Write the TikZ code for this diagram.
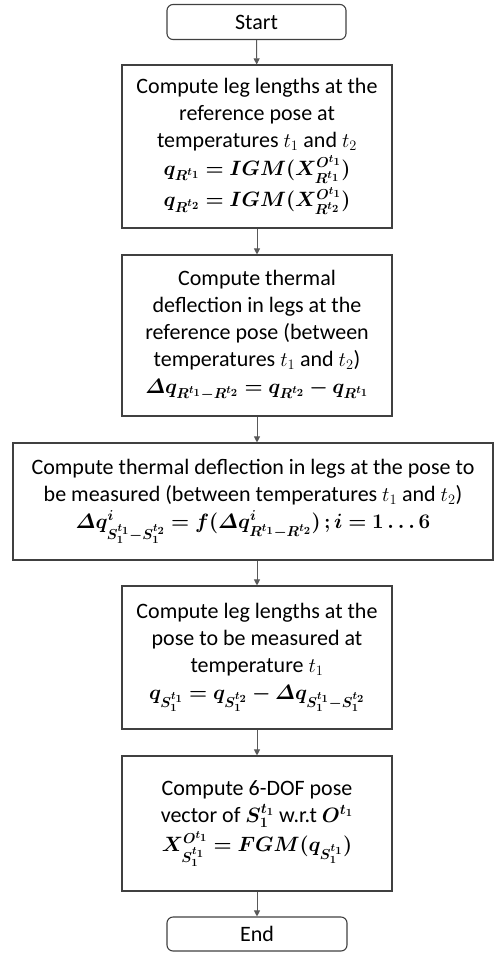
\documentclass[tikz,border=0pt]{standalone}
\usepackage{amsmath}
\usepackage{bm}
\usepackage{fontspec}
\setmainfont{Carlito}
\usetikzlibrary{arrows.meta}

\begin{document}
\begin{tikzpicture}[x=1pt,y=1pt,
  stepbox/.style={draw=black!75,line width=1.1pt,align=center,inner sep=2pt,
    font=\fontsize{22}{27}\selectfont},
  termbox/.style={stepbox,rounded corners=6pt,minimum width=179pt,minimum height=35pt},
  flow/.style={draw=black!65,line width=0.9pt,-{Triangle[length=6pt,width=6pt]}}]
\path (0,0) rectangle (498,-954);
\node[termbox] (start) at (256.5,-22) {Start};
\node[stepbox,minimum width=270pt,minimum height=163pt] (leglen) at (257,-146.5)
  {Compute leg lengths at the\\reference pose at\\temperatures $t_1$ and $t_2$\\[1pt]
   $\bm{q_{R^{t_1}} = IGM(X^{O^{t_1}}_{R^{t_1}})}$\\[3pt]
   $\bm{q_{R^{t_2}} = IGM(X^{O^{t_1}}_{R^{t_2}})}$};
\node[stepbox,minimum width=270pt,minimum height=161pt] (refdefl) at (257,-335.5)
  {Compute thermal\\deflection in legs at the\\reference pose (between\\temperatures $t_1$ and $t_2$)\\
   $\bm{\varDelta q_{R^{t_1}-R^{t_2}} = q_{R^{t_2}} - q_{R^{t_1}}}$};
\node[stepbox,minimum width=480pt,minimum height=117pt] (posedefl) at (253,-501.5)
  {Compute thermal deflection in legs at the pose to\\be measured (between temperatures $t_1$ and $t_2$)\\
   $\bm{\varDelta q^{i}_{S_1^{t_1}-S_1^{t_2}} = f(\varDelta q^{i}_{R^{t_1}-R^{t_2}})\,; i = 1 \ldots 6}$};
\node[stepbox,minimum width=270pt,minimum height=143pt] (poselen) at (257,-657.5)
  {Compute leg lengths at the\\pose to be measured at\\temperature $t_1$\\
   $\bm{q_{S_1^{t_1}} = q_{S_1^{t_2}} - \varDelta q_{S_1^{t_1}-S_1^{t_2}}}$};
\node[stepbox,minimum width=270pt,minimum height=135pt] (posevec) at (257,-823.5)
  {Compute 6-DOF pose\\vector of $\bm{S_1^{t_1}}$ w.r.t $\bm{O^{t_1}}$\\[2pt]
   $\bm{X^{O^{t_1}}_{S_1^{t_1}} = FGM(q_{S_1^{t_1}})}$};
\node[termbox,minimum width=180pt,minimum height=34pt] (end) at (257,-934) {End};
\draw[flow] (start) -- (leglen);
\draw[flow] (leglen) -- (refdefl);
\draw[flow] (refdefl.south) -- (refdefl.south |- posedefl.north);
\draw[flow] (poselen.north |- posedefl.south) -- (poselen.north);
\draw[flow] (poselen) -- (posevec);
\draw[flow] (posevec) -- (end);
\end{tikzpicture}
\end{document}
